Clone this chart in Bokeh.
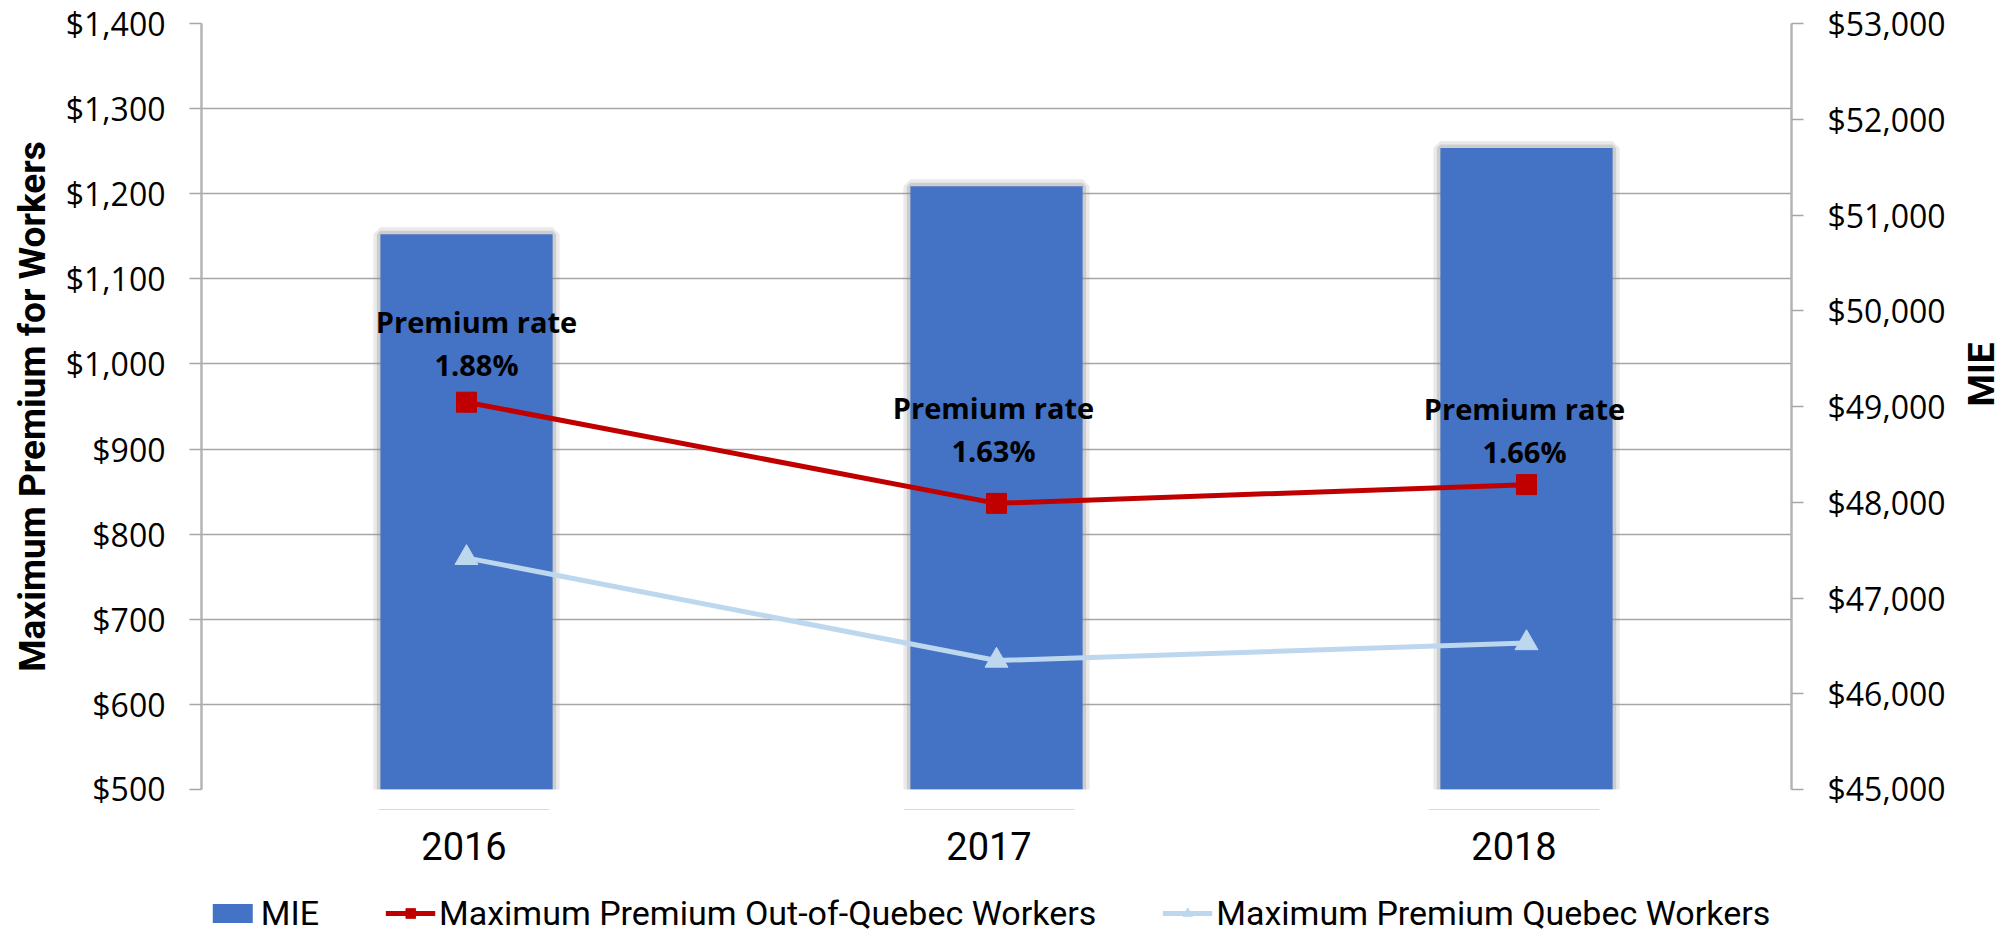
from bokeh.plotting import figure
from bokeh.layouts import column
from bokeh.models import (Range1d, LinearAxis, FixedTicker, NumeralTickFormatter,
                          Legend, LegendItem, ColumnDataSource)
from bokeh.core.properties import value
from bokeh.embed import file_html
from bokeh.resources import INLINE

# ---------------- data ----------------
years = ["2016", "2017", "2018"]
mie = [50800, 51300, 51700]
premium_out_quebec = [955.04, 836.19, 858.22]
premium_quebec = [772.16, 651.51, 672.10]
premium_rates = [1.88, 1.63, 1.66]
left_ticks = [500, 600, 700, 800, 900, 1000, 1100, 1200, 1300, 1400]
right_ticks = [45000, 46000, 47000, 48000, 49000, 50000, 51000, 52000, 53000]
series_names = ["MIE", "Maximum Premium Out-of-Quebec Workers", "Maximum Premium Quebec Workers"]

# category slots on a numeric axis: category i occupies [i, i+1]
xpos = [i + 0.5 for i in range(len(years))]
slot_edges = list(range(len(years) + 1))

# ---------------- style / layout ----------------
NARROW = "Roboto"
TICKFONT = "Open Sans"
GRID = "#a6a6a6"
AXIS = "#b4b4b4"
BAR = "#4472C4"
RED = "#C00000"
LIGHTBLUE = "#BDD7EE"
label_dx = [10, -3, -2]
label_dy = [-59, -74, -55]

CANVAS_W = 2012
CANVAS_H = 933
FRAME_LEFT = 201
FRAME_W = 1590
FRAME_TOP = 23
FRAME_H = 766
BOTTOM_PAD = 20
RIGHT_BORDER = CANVAS_W - FRAME_LEFT - FRAME_W
STRIP_H = CANVAS_H - FRAME_TOP - FRAME_H - BOTTOM_PAD

x_range = Range1d(slot_edges[0], slot_edges[-1])

# ================= main chart =================
p = figure(frame_width=FRAME_W, frame_height=FRAME_H,
           x_range=x_range, y_range=Range1d(left_ticks[0], left_ticks[-1]),
           output_backend="svg", toolbar_location=None, x_axis_location=None,
           min_border_left=FRAME_LEFT, min_border_right=RIGHT_BORDER,
           min_border_top=FRAME_TOP, min_border_bottom=BOTTOM_PAD)
p.extra_y_ranges = {"mie": Range1d(right_ticks[0], right_ticks[-1])}
p.outline_line_color = None
p.background_fill_color = "white"
p.border_fill_color = "white"
p.xgrid.visible = False
p.ygrid.grid_line_color = GRID
p.ygrid.grid_line_width = 1.5

# left axis
ly = p.yaxis[0]
ly.ticker = FixedTicker(ticks=left_ticks)
ly.formatter = NumeralTickFormatter(format="$0,0")
ly.axis_label = "Maximum Premium for Workers"
ly.axis_label_text_font = NARROW
ly.axis_label_text_font_style = "bold"
ly.axis_label_text_font_size = "37px"
ly.axis_label_text_color = "black"
ly.axis_label_standoff = 9
ly.major_label_text_font = TICKFONT
ly.major_label_text_font_size = "32px"
ly.major_label_text_color = "black"
ly.major_label_standoff = 24
ly.major_tick_out = 12
ly.major_tick_in = 0
ly.minor_tick_line_color = None
ly.axis_line_color = AXIS
ly.axis_line_width = 2.5
ly.major_tick_line_color = GRID
ly.major_tick_line_width = 1.5

# right axis
ry = LinearAxis(y_range_name="mie", ticker=FixedTicker(ticks=right_ticks),
                formatter=NumeralTickFormatter(format="$0,0"), axis_label="MIE")
ry.axis_label_text_font = NARROW
ry.axis_label_text_font_style = "bold"
ry.axis_label_text_font_size = "37px"
ry.axis_label_text_color = "black"
ry.axis_label_standoff = 33
ry.axis_label_orientation = 1.5707963
ry.major_label_text_font = TICKFONT
ry.major_label_text_font_size = "32px"
ry.major_label_text_color = "black"
ry.major_label_standoff = 24
ry.major_tick_out = 12
ry.major_tick_in = 0
ry.minor_tick_line_color = None
ry.axis_line_color = AXIS
ry.axis_line_width = 2.5
ry.major_tick_line_color = GRID
ry.major_tick_line_width = 1.5
p.add_layout(ry, "right")

# bars with soft shadow
p.vbar(x=xpos, top=mie, bottom=right_ticks[0], width=0.325, y_range_name="mie",
       fill_color=None, line_color="#8c8c8c", line_width=14, line_alpha=0.18)
p.vbar(x=xpos, top=mie, bottom=right_ticks[0], width=0.325, y_range_name="mie",
       fill_color=None, line_color="#8c8c8c", line_width=7, line_alpha=0.3)
p.vbar(x=xpos, top=mie, bottom=right_ticks[0], width=0.325, y_range_name="mie",
       fill_color=BAR, line_color=None)

# lines
p.line(x=xpos, y=premium_out_quebec, line_color=RED, line_width=5)
p.scatter(x=xpos, y=premium_out_quebec, marker="square", size=20,
          fill_color=RED, line_color=RED)
p.line(x=xpos, y=premium_quebec, line_color=LIGHTBLUE, line_width=5)
p.scatter(x=xpos, y=premium_quebec, marker="triangle", size=23,
          fill_color=LIGHTBLUE, line_color=LIGHTBLUE)

# premium rate labels
src = ColumnDataSource(dict(x=xpos, y=premium_out_quebec,
                            text=[f"Premium rate\n{r:.2f}%" for r in premium_rates],
                            dx=label_dx, dy=label_dy))
p.text(x="x", y="y", text="text", x_offset="dx", y_offset="dy", source=src,
       text_font=value(TICKFONT), text_font_style="bold", text_font_size="29px",
       text_color="black", text_align="center", text_baseline="middle", text_line_height=1.1)

# ================= strip below: category labels and legend =================
lg = figure(width=CANVAS_W, height=STRIP_H, x_range=x_range, y_range=Range1d(0, STRIP_H),
            output_backend="svg", toolbar_location=None,
            x_axis_location=None, y_axis_location=None,
            min_border_left=FRAME_LEFT, min_border_right=RIGHT_BORDER,
            min_border_top=0, min_border_bottom=0)
lg.outline_line_color = None
lg.xgrid.visible = False
lg.ygrid.visible = False
lg.background_fill_color = "white"
lg.border_fill_color = "white"

# category labels
lg.text(x=xpos, y=STRIP_H - 36, text=years, text_font=value(NARROW), text_font_size="38px",
        text_color="black", text_align="center", text_baseline="middle")

# legend proxies: same series and styles, lying outside this strip's view
k_bar = lg.vbar(x=xpos, top=mie, bottom=right_ticks[0], width=0.325, fill_color=BAR, line_color=None)
k_red_l = lg.line(x=xpos, y=premium_out_quebec, line_color=RED, line_width=5)
k_red_m = lg.scatter(x=xpos, y=premium_out_quebec, marker="square", size=20,
                     fill_color=RED, line_color=RED)
k_blue_l = lg.line(x=xpos, y=premium_quebec, line_color=LIGHTBLUE, line_width=5)
k_blue_m = lg.scatter(x=xpos, y=premium_quebec, marker="triangle", size=23,
                      fill_color=LIGHTBLUE, line_color=LIGHTBLUE)

legend = Legend(items=[
    LegendItem(label=series_names[0], renderers=[k_bar]),
    LegendItem(label=series_names[1], renderers=[k_red_l, k_red_m]),
    LegendItem(label=series_names[2], renderers=[k_blue_l, k_blue_m]),
], orientation="horizontal", location="bottom_center")
legend.label_text_font = NARROW
legend.label_text_font_size = "34px"
legend.label_text_color = "black"
legend.glyph_width = 50
legend.glyph_height = 24
legend.label_standoff = 4
legend.spacing = 66
legend.padding = 0
legend.margin = 0
legend.border_line_color = None
legend.background_fill_alpha = 0
lg.add_layout(legend, "center")

open("out.html", "w").write(file_html(column(p, lg, spacing=0), INLINE))
